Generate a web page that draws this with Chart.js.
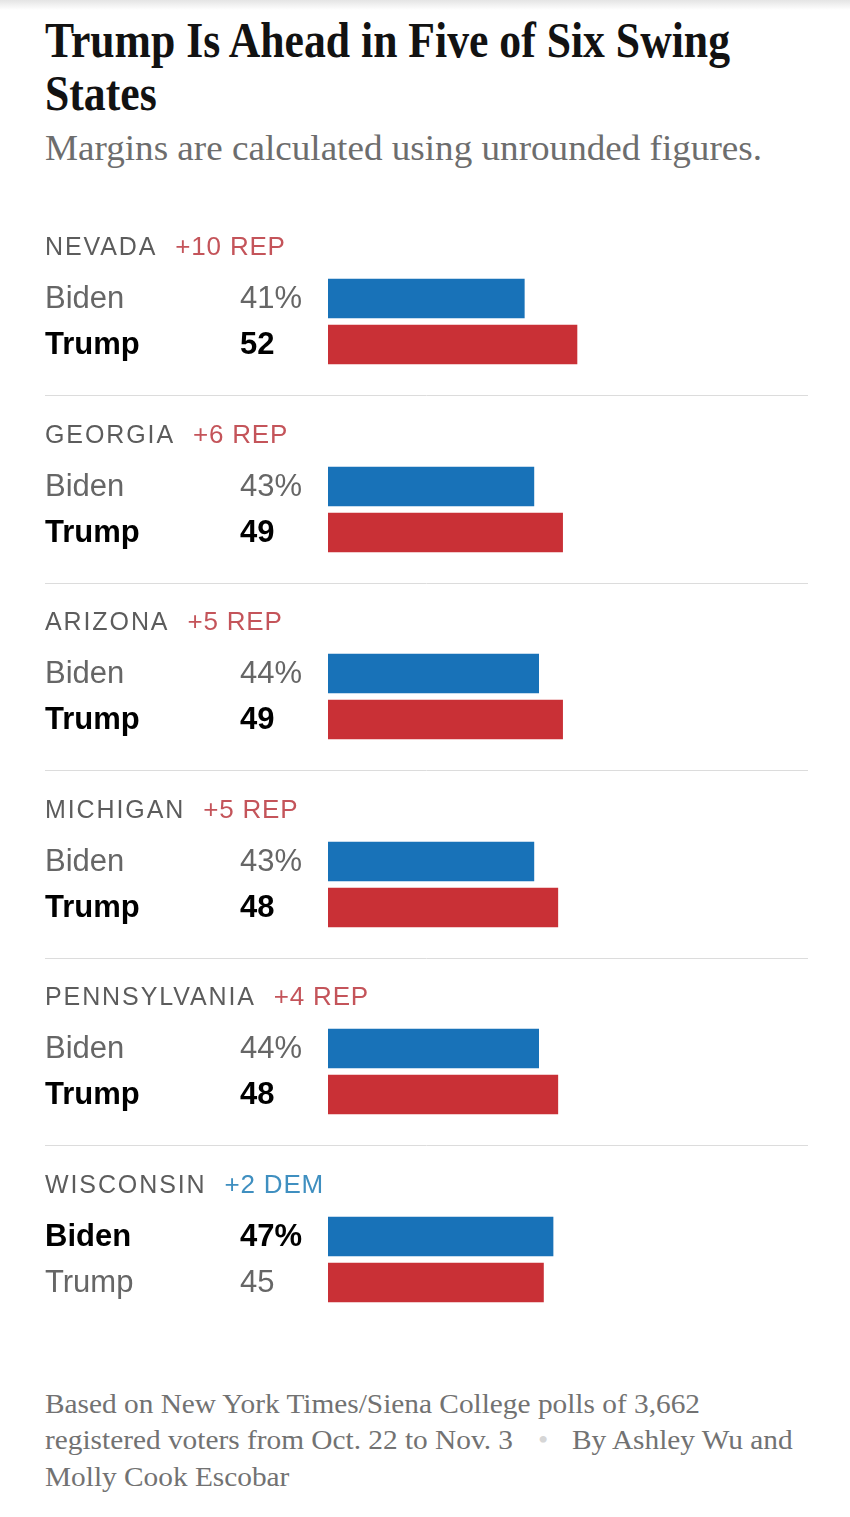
<!DOCTYPE html>
<html>
<head>
<meta charset="utf-8">
<script src="https://cdn.jsdelivr.net/npm/chart.js@4.4.1/dist/chart.umd.min.js"></script>
<style>
  html, body { margin: 0; padding: 0; background: #fff; }
  body { width: 850px; height: 1517px; position: relative; overflow: hidden; }
  .shadow { position: absolute; left: 0; top: 0; width: 850px; height: 10px;
            background: linear-gradient(#e4e4e4, rgba(255,255,255,0)); }
  .txt { position: absolute; left: 45px; white-space: nowrap; transform-origin: 0 50%; }
  .serif { font-family: "Liberation Serif", "DejaVu Serif", serif; }
  .title { font-weight: bold; font-size: 51px; line-height: 53px; color: #121212; }
  .sub { font-size: 36px; line-height: 40px; color: #6d6d6d; }
  .foot { font-size: 28px; line-height: 36px; color: #727272; }
  canvas.state { position: absolute; left: 0; }
</style>
</head>
<body>
<div class="shadow"></div>
<div id="t1" class="txt serif title" style="top:14px">Trump Is Ahead in Five of Six Swing</div>
<div id="t2" class="txt serif title" style="top:67px">States</div>
<div id="sub" class="txt serif sub" style="top:128px">Margins are calculated using unrounded figures.</div>
<div id="f1" class="txt serif foot" style="top:1386px">Based on New York Times/Siena College polls of 3,662</div>
<div id="f2" class="txt serif foot" style="top:1422px">registered voters from Oct. 22 to Nov. 3</div>
<div id="fdot" class="txt serif foot" style="top:1422px;left:538px;color:#d6d6d6">•</div>
<div id="f3" class="txt serif foot" style="top:1422px;left:572px">By Ashley Wu and</div>
<div id="f4" class="txt serif foot" style="top:1459px">Molly Cook Escobar</div>

<script>
const states = ['NEVADA', 'GEORGIA', 'ARIZONA', 'MICHIGAN', 'PENNSYLVANIA', 'WISCONSIN'];
const margins = ['+10 REP', '+6 REP', '+5 REP', '+5 REP', '+4 REP', '+2 DEM'];
const leaders = ['REP', 'REP', 'REP', 'REP', 'REP', 'DEM'];
const candidates = ['Biden', 'Trump'];
const bidenPct = [41, 43, 44, 43, 44, 47];
const trumpPct = [52, 49, 49, 48, 48, 45];

const BLUE = '#1872b8';
const RED = '#c93036';
const REP_TEXT = '#c4545a';
const DEM_TEXT = '#3f8fc0';
const SANS = '"Liberation Sans", Arial, sans-serif';

// squeeze the serif lines to the condensed widths of the original
function fit(id, w) {
  const el = document.getElementById(id);
  const s = w / el.getBoundingClientRect().width;
  el.style.transform = 'scaleX(' + s + ')';
  return s;
}
const ts = fit('t1', 685);
document.getElementById('t2').style.transform = 'scaleX(' + ts + ')';
fit('sub', 717);
const fs = fit('f1', 655);
['f2', 'fdot', 'f3', 'f4'].forEach(id => document.getElementById(id).style.transform = 'scaleX(' + fs + ')');

const labelPlugin = {
  id: 'stateLabels',
  afterDatasetsDraw(chart) {
    const ctx = chart.ctx;
    const i = chart.options.plugins.stateLabels.index;
    const vals = chart.data.datasets[0].data;
    const win = vals[0] > vals[1] ? 0 : 1;
    ctx.save();
    ctx.textBaseline = 'alphabetic';
    ctx.textAlign = 'left';

    // state name + margin
    ctx.font = '25px ' + SANS;
    ctx.letterSpacing = '1.9px';
    ctx.fillStyle = '#5c5c5c';
    ctx.fillText(states[i], 45, 35);
    const w = ctx.measureText(states[i]).width;
    ctx.letterSpacing = '0.8px';
    ctx.font = '26px ' + SANS;
    ctx.fillStyle = leaders[i] === 'DEM' ? DEM_TEXT : REP_TEXT;
    ctx.fillText(margins[i], 45 + w + 18, 35);
    ctx.letterSpacing = '0px';

    // candidate names and values
    const meta = chart.getDatasetMeta(0);
    meta.data.forEach((bar, k) => {
      const bold = k === win;
      ctx.font = (bold ? 'bold ' : '') + '31px ' + SANS;
      ctx.fillStyle = bold ? '#000' : '#666';
      const yb = bar.y + 9;
      ctx.fillText(candidates[k], 45, yb);
      ctx.fillText(vals[k] + (k === 0 ? '%' : ''), 240, yb);
    });

    // separator
    if (i < states.length - 1) {
      ctx.strokeStyle = '#dcdcdc';
      ctx.lineWidth = 1;
      ctx.beginPath();
      ctx.moveTo(45, 175.5);
      ctx.lineTo(808, 175.5);
      ctx.stroke();
    }
    ctx.restore();
  }
};

states.forEach((name, i) => {
  const c = document.createElement('canvas');
  c.className = 'state';
  c.width = 850;
  c.height = 180;
  c.style.top = Math.round(220 + 187.6 * i) + 'px';
  document.body.appendChild(c);

  new Chart(c, {
    type: 'bar',
    data: {
      labels: candidates,
      datasets: [{
        data: [bidenPct[i], trumpPct[i]],
        backgroundColor: [BLUE, RED],
        barThickness: 39,
        borderWidth: 0
      }]
    },
    options: {
      indexAxis: 'y',
      responsive: false,
      animation: false,
      layout: { padding: { left: 328, right: 43.2, top: 55.5, bottom: 32.5 } },
      scales: {
        x: { min: 0, max: 100, display: false },
        y: { display: false }
      },
      plugins: {
        legend: { display: false },
        tooltip: { enabled: false },
        stateLabels: { index: i }
      }
    },
    plugins: [labelPlugin]
  });
});
</script>
</body>
</html>
